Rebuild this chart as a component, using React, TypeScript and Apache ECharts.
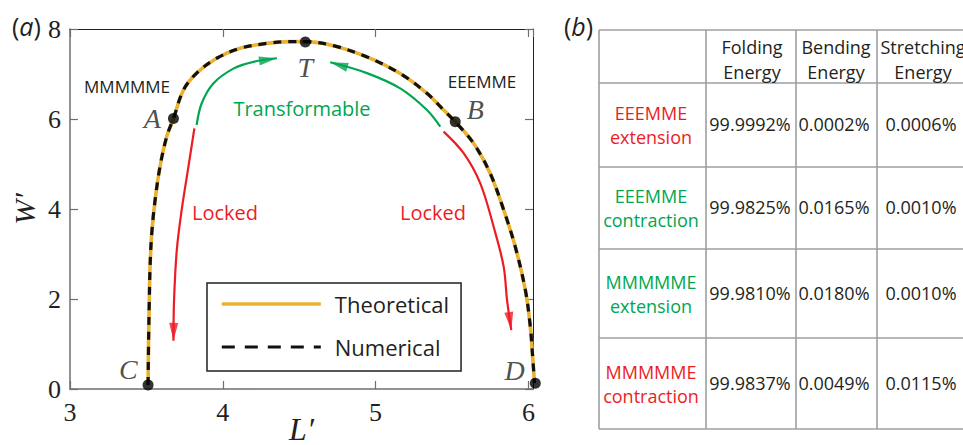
import React, { useEffect, useRef } from "react";
import * as echarts from "echarts";

// ---------- data (panel a) ----------
const theoreticalCurve: [number, number][] = [
  [3.511, 0.09], [3.514, 1.0], [3.519, 1.98], [3.524, 2.72], [3.535, 3.46], [3.557, 4.2],
  [3.589, 4.94], [3.633, 5.61], [3.677, 6.01], [3.742, 6.64], [3.829, 7.02], [3.96, 7.35],
  [4.113, 7.57], [4.288, 7.68], [4.441, 7.72], [4.54, 7.72], [4.724, 7.63], [4.943, 7.38],
  [5.161, 7.01], [5.336, 6.57], [5.445, 6.2], [5.521, 5.94], [5.641, 5.46], [5.75, 4.79],
  [5.838, 3.98], [5.914, 3.16], [5.98, 2.2], [6.012, 1.4], [6.026, 0.8], [6.04, 0.13],
];
const numericalCurve: [number, number][] = [
  [3.511, 0.09], [3.514, 1.0], [3.519, 1.98], [3.524, 2.72], [3.535, 3.46], [3.557, 4.2],
  [3.589, 4.94], [3.633, 5.61], [3.677, 6.01], [3.742, 6.64], [3.829, 7.02], [3.96, 7.35],
  [4.113, 7.57], [4.288, 7.68], [4.441, 7.72], [4.54, 7.72], [4.724, 7.63], [4.943, 7.38],
  [5.161, 7.01], [5.336, 6.57], [5.445, 6.2], [5.521, 5.94], [5.641, 5.46], [5.75, 4.79],
  [5.838, 3.98], [5.914, 3.16], [5.98, 2.2], [6.012, 1.4], [6.026, 0.8], [6.04, 0.13],
];
const keyPointNames = ["A", "T", "B", "C", "D"];
const keyPointValues: [number, number][] = [
  [3.677, 6.01], [4.54, 7.71], [5.521, 5.94], [3.511, 0.09], [6.045, 0.13],
];
const transformableLeft: [number, number][] = [
  [3.829, 5.87], [3.862, 6.35], [3.938, 6.79], [4.069, 7.12], [4.2, 7.27], [4.354, 7.35],
];
const transformableRight: [number, number][] = [
  [5.423, 5.83], [5.336, 6.2], [5.161, 6.68], [4.943, 7.02], [4.703, 7.26],
];
const lockedLeft: [number, number][] = [
  [3.814, 5.79], [3.775, 4.94], [3.731, 3.98], [3.699, 3.09], [3.681, 1.98], [3.677, 1.07],
];
const lockedRight: [number, number][] = [
  [5.445, 5.72], [5.576, 5.24], [5.685, 4.57], [5.772, 3.61], [5.838, 2.72], [5.86, 1.98], [5.888, 1.31],
];
const xMin = 3;
const xMax = 6.03;
const xStep = 1;
const yMin = 0;
const yMax = 8;
const yStep = 2;
const seriesNames = ["Theoretical", "Numerical"];

// ---------- data (panel b) ----------
const tableHeaders = [["Folding", "Energy"], ["Bending", "Energy"], ["Stretching", "Energy"]];
const tableRowLabels = [
  ["EEEMME", "extension"],
  ["EEEMME", "contraction"],
  ["MMMMME", "extension"],
  ["MMMMME", "contraction"],
];
const foldingEnergy = ["99.9992%", "99.9825%", "99.9810%", "99.9837%"];
const bendingEnergy = ["0.0002%", "0.0165%", "0.0180%", "0.0049%"];
const stretchingEnergy = ["0.0006%", "0.0010%", "0.0010%", "0.0115%"];

// ---------- styles ----------
const RED = "#ed1c24";
const GREEN = "#00a651";
const YELLOW = "#ebb22f";
const INK = "#231f20";
const SERIF = "Liberation Serif";
const SANS = "Open Sans";
const rowColors = [RED, GREEN, GREEN, RED];
const HEAD_LEN = 18;
const HEAD_W = 9;
const SMOOTH = 0.35;

export default function App() {
  const ref = useRef<HTMLDivElement>(null);

  useEffect(() => {
    if (!ref.current) return;
    const chart = echarts.init(ref.current, undefined, { renderer: "svg" });

    // table graphics
    const colX = [599, 706, 796, 877];
    const rowY = [30, 83, 167, 249, 338, 429];
    const colCenters = [752, 836, 923];
    const tableEls: any[] = [];
    colX.forEach((x) =>
      tableEls.push({
        type: "line",
        shape: { x1: x, y1: rowY[0], x2: x, y2: rowY[rowY.length - 1] },
        style: { stroke: "#9d9fa2", lineWidth: 1.6 },
      })
    );
    rowY.forEach((y) =>
      tableEls.push({
        type: "line",
        shape: { x1: colX[0], y1: y, x2: 963, y2: y },
        style: { stroke: "#9d9fa2", lineWidth: 1.6 },
      })
    );
    const tText = (x: number, y: number, text: string, fill = INK) => ({
      type: "text",
      x,
      y,
      style: {
        text,
        fill,
        font: `18px "${SANS}"`,
        align: "center",
        verticalAlign: "middle",
      },
    });
    tableHeaders.forEach((h, i) => {
      tableEls.push(tText(colCenters[i], 47, h[0]));
      tableEls.push(tText(colCenters[i], 72, h[1]));
    });
    const values = [foldingEnergy, bendingEnergy, stretchingEnergy];
    tableRowLabels.forEach((lab, r) => {
      const mid = (rowY[r + 1] + rowY[r + 2]) / 2;
      tableEls.push(tText(651, mid - 12, lab[0], rowColors[r]));
      tableEls.push(tText(651, mid + 12, lab[1], rowColors[r]));
      values.forEach((col, c) => {
        tableEls.push(tText(colCenters[c] - 2, mid - 1, col[r]));
      });
    });

    const annText = (x: number, y: number, text: string, fill: string, size: number) => ({
      type: "text",
      x,
      y,
      style: { text, fill, font: `${size}px "${SANS}"`, align: "center", verticalAlign: "middle" },
    });

    const panelLabel = (x: number, letter: string) => ({
      type: "text",
      x,
      y: 26,
      style: {
        text: `({i|${letter}})`,
        fill: INK,
        font: `25px "${SANS}"`,
        verticalAlign: "middle",
        rich: { i: { fontStyle: "italic", fontSize: 25, fontFamily: SANS, fill: INK } },
      },
    });

    const graphic: any[] = [
      ...tableEls,
      annText(127, 86, "MMMMME", INK, 17),
      annText(482, 81, "EEEMME", INK, 17),
      annText(302, 108, "Transformable", GREEN, 20),
      annText(225, 212, "Locked", RED, 20),
      annText(433, 212, "Locked", RED, 20),
      panelLabel(12, "a"),
      panelLabel(564, "b"),
    ];

    const arrows = [
      { id: "tl", path: transformableLeft, color: GREEN },
      { id: "tr", path: transformableRight, color: GREEN },
      { id: "ll", path: lockedLeft, color: RED },
      { id: "lr", path: lockedRight, color: RED },
    ];

    const labelPos: Record<string, any> = {
      A: { position: "left", distance: 7 },
      T: { position: "bottom", distance: 6 },
      B: { position: "right", distance: 6, offset: [0, -12] },
      C: { position: "left", distance: 5, offset: [0, -15] },
      D: { position: "left", distance: 5, offset: [0, -13] },
    };

    const tickStyle = { color: "#6d6e71", width: 1.2 };
    const option: any = {
      animation: false,
      grid: { left: 70, top: 29, right: 430, bottom: 56, containLabel: false, outerBoundsMode: "none" },
      legend: {
        left: 207,
        top: 283,
        orient: "vertical",
        padding: [8, 12, 11, 13],
        itemWidth: 99,
        itemHeight: 14,
        itemGap: 17,
        borderColor: INK,
        borderWidth: 1.5,
        backgroundColor: "#fff",
        itemStyle: { opacity: 0, color: "rgba(0,0,0,0)", borderWidth: 0 },
        textStyle: { fontFamily: SANS, fontSize: 22, color: INK, lineHeight: 26, padding: [0, 0, 0, 9] },
        data: [
          { name: seriesNames[0], lineStyle: { width: 3.6, color: YELLOW } },
          { name: seriesNames[1], lineStyle: { type: [13, 10], width: 3.2, color: "#111" } },
        ],
      },
      xAxis: [
        {
          type: "value",
          min: xMin,
          max: xMax,
          interval: xStep,
          position: "bottom",
          name: "L\u2032",
          nameLocation: "middle",
          nameGap: 24,
          nameMoveOverlap: false,
          nameTextStyle: { fontFamily: SERIF, fontStyle: "italic", fontSize: 32, color: INK },
          axisLine: { show: true, onZero: false, lineStyle: { color: "#6d6e71", width: 1.5 } },
          axisTick: { show: true, inside: true, length: 8, lineStyle: tickStyle },
          axisLabel: { fontFamily: SERIF, fontSize: 26, color: INK, margin: 10 },
          splitLine: { show: false },
        },
        {
          type: "value",
          min: xMin,
          max: xMax,
          interval: xStep,
          position: "top",
          axisLine: { show: true, onZero: false, lineStyle: { color: "#231f20", width: 1 } },
          axisTick: { show: true, inside: true, length: 8, lineStyle: tickStyle },
          axisLabel: { show: false },
          splitLine: { show: false },
        },
      ],
      yAxis: [
        {
          type: "value",
          min: yMin,
          max: yMax,
          interval: yStep,
          position: "left",
          name: "W\u2032",
          nameLocation: "middle",
          nameGap: 31,
          nameMoveOverlap: false,
          nameRotate: 90,
          nameTextStyle: { fontFamily: SERIF, fontStyle: "italic", fontSize: 30, color: INK },
          axisLine: { show: true, onZero: false, lineStyle: { color: "#6d6e71", width: 1.5 } },
          axisTick: { show: true, inside: true, length: 8, lineStyle: tickStyle },
          axisLabel: { fontFamily: SERIF, fontSize: 26, color: INK, margin: 9 },
          splitLine: { show: false },
        },
        {
          type: "value",
          min: yMin,
          max: yMax,
          interval: yStep,
          position: "right",
          axisLine: { show: true, onZero: false, lineStyle: { color: "#231f20", width: 1 } },
          axisTick: { show: true, inside: true, length: 8, lineStyle: tickStyle },
          axisLabel: { show: false },
          splitLine: { show: false },
        },
      ],
      graphic,
      series: [
        {
          name: seriesNames[0],
          type: "line",
          data: theoreticalCurve,
          smooth: SMOOTH,
          symbol: "none",
          clip: false,
          lineStyle: { color: YELLOW, width: 3.6 },
          itemStyle: { color: YELLOW },
          z: 3,
        },
        {
          name: seriesNames[1],
          type: "line",
          data: numericalCurve,
          smooth: SMOOTH,
          symbol: "none",
          clip: false,
          lineStyle: { color: "#111", width: 3.2, type: [8, 7] },
          itemStyle: { color: "#111" },
          z: 4,
        },
        ...arrows.map((a) => ({
          id: a.id,
          type: "line",
          data: a.path,
          smooth: SMOOTH,
          symbol: "none",
          clip: false,
          lineStyle: { color: a.color, width: 2.2 },
          z: 3,
        })),
        {
          id: "heads",
          type: "scatter",
          symbol: "triangle",
          symbolSize: [HEAD_W, HEAD_LEN],
          clip: false,
          data: [],
          z: 5,
        },
        {
          id: "points",
          type: "scatter",
          symbolSize: 11,
          clip: false,
          itemStyle: { color: "#000" },
          z: 6,
          data: keyPointNames.map((n, i) => ({
            name: n,
            value: keyPointValues[i],
            label: {
              show: true,
              formatter: n,
              fontFamily: SERIF,
              fontStyle: "italic",
              fontSize: 28,
              color: INK,
              ...labelPos[n],
            },
          })),
        },
      ],
    };
    chart.setOption(option);

    const heads = arrows.map((a) => {
      const n = a.path.length;
      const tip = chart.convertToPixel({ gridIndex: 0 }, a.path[n - 1]) as number[];
      const prev = chart.convertToPixel({ gridIndex: 0 }, a.path[n - 2]) as number[];
      const dx = tip[0] - prev[0];
      const dy = tip[1] - prev[1];
      const len = Math.hypot(dx, dy) || 1;
      const c = [tip[0] - (dx / len) * (HEAD_LEN / 2), tip[1] - (dy / len) * (HEAD_LEN / 2)];
      const val = chart.convertFromPixel({ gridIndex: 0 }, c) as number[];
      const angle = (Math.atan2(-dy, dx) * 180) / Math.PI - 90;
      return { value: val, symbolRotate: angle, itemStyle: { color: a.color } };
    });
    chart.setOption({ series: [{ id: "heads", data: heads }] });

    return () => chart.dispose();
  }, []);

  return (
    <div
      ref={ref}
      style={{ position: "fixed", left: 0, top: 0, width: 963, height: 445, background: "#fff" }}
    />
  );
}
